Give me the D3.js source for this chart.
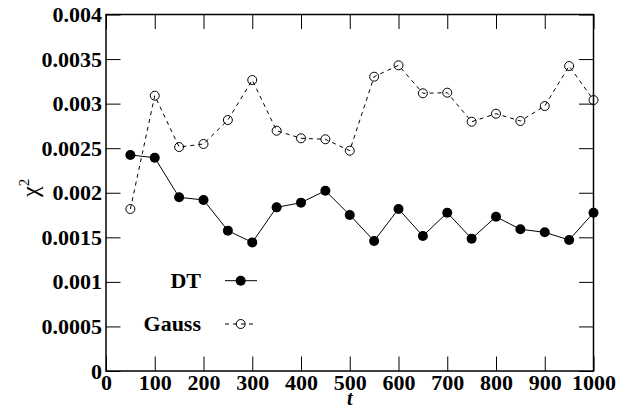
<!DOCTYPE html>
<html>
<head>
<meta charset="utf-8">
<script src="https://cdn.jsdelivr.net/npm/d3@7"></script>
<style>
  body { margin: 0; background: #fff; }
  svg { display: block; }
</style>
</head>
<body>
<div id="chart"></div>
<script>
// Data
const steps = [50, 100, 150, 200, 250, 300, 350, 400, 450, 500,
               550, 600, 650, 700, 750, 800, 850, 900, 950, 1000];
const dtValues = [0.002424, 0.002393, 0.001949, 0.001919, 0.001575, 0.001443, 0.001836, 0.001889, 0.002023, 0.00175,
                  0.001459, 0.001818, 0.001515, 0.001776, 0.001485, 0.001731, 0.00159, 0.001556, 0.00147, 0.001776];
const gaussValues = [0.001818, 0.003089, 0.002513, 0.002547, 0.002816, 0.003265, 0.002696, 0.002611, 0.0026, 0.002472,
                     0.003302, 0.00343, 0.003116, 0.003123, 0.002797, 0.002887, 0.002805, 0.002973, 0.003422, 0.00304];
const xTicks = [0, 100, 200, 300, 400, 500, 600, 700, 800, 900, 1000];
const yTicks = [0, 0.0005, 0.001, 0.0015, 0.002, 0.0025, 0.003, 0.0035, 0.004];
const yTickLabels = ["0", "0.0005", "0.001", "0.0015", "0.002", "0.0025", "0.003", "0.0035", "0.004"];

const width = 629, height = 411;
const margin = {top: 14.5, right: 35.5, bottom: 40, left: 106};
const innerW = width - margin.left - margin.right;
const innerH = height - margin.top - margin.bottom;
const serif = '"Liberation Serif", "Times New Roman", serif';

const svg = d3.select('#chart').append('svg')
    .attr('width', width)
    .attr('height', height);

const g = svg.append('g')
    .attr('transform', `translate(${margin.left},${margin.top})`);

const x = d3.scaleLinear().domain([0, 1000]).range([0, innerW]);
const y = d3.scaleLinear().domain([0, 0.004]).range([innerH, 0]);

// inward ticks on all four sides
const tickLen = 14.5;
g.append('g')
    .attr('transform', `translate(0,${innerH})`)
    .call(d3.axisBottom(x).tickValues(xTicks).tickSizeInner(-tickLen).tickSizeOuter(0).tickPadding(3)
        .tickFormat(d3.format('d')))
    .call(a => a.select('.domain').remove());
g.append('g')
    .call(d3.axisTop(x).tickValues(xTicks).tickSizeInner(-tickLen).tickSizeOuter(0).tickFormat(''))
    .call(a => a.select('.domain').remove());
g.append('g')
    .call(d3.axisLeft(y).tickValues(yTicks).tickSizeInner(-tickLen).tickSizeOuter(0).tickPadding(4)
        .tickFormat((d, i) => yTickLabels[i]))
    .call(a => a.select('.domain').remove());
g.append('g')
    .attr('transform', `translate(${innerW},0)`)
    .call(d3.axisRight(y).tickValues(yTicks).tickSizeInner(-tickLen).tickSizeOuter(0).tickFormat(''))
    .call(a => a.select('.domain').remove());

g.selectAll('.tick line').attr('stroke', '#000').attr('stroke-width', 1);
g.selectAll('.tick text')
    .attr('font-family', serif)
    .attr('font-weight', 'bold')
    .attr('font-size', 22)
    .attr('fill', '#000');

// frame
g.append('rect')
    .attr('width', innerW)
    .attr('height', innerH)
    .attr('fill', 'none')
    .attr('stroke', '#000')
    .attr('stroke-width', 1.5);

const line = d3.line()
    .x((d, i) => x(steps[i]))
    .y(d => y(d));

// Gauss: dashed line with open circles
g.append('path')
    .datum(gaussValues)
    .attr('d', line)
    .attr('fill', 'none')
    .attr('stroke', '#000')
    .attr('stroke-width', 1)
    .attr('stroke-dasharray', '4,4');
g.selectAll('.gauss-pt')
    .data(gaussValues)
    .enter().append('circle')
    .attr('class', 'gauss-pt')
    .attr('cx', (d, i) => x(steps[i]))
    .attr('cy', d => y(d))
    .attr('r', 4.5)
    .attr('fill', 'none')
    .attr('stroke', '#000')
    .attr('stroke-width', 1);

// DT: solid line with filled circles
g.append('path')
    .datum(dtValues)
    .attr('d', line)
    .attr('fill', 'none')
    .attr('stroke', '#000')
    .attr('stroke-width', 1);
g.selectAll('.dt-pt')
    .data(dtValues)
    .enter().append('circle')
    .attr('class', 'dt-pt')
    .attr('cx', (d, i) => x(steps[i]))
    .attr('cy', d => y(d))
    .attr('r', 5)
    .attr('fill', '#000');

// axis titles
svg.append('text')
    .attr('x', margin.left + innerW / 2)
    .attr('y', 405)
    .attr('text-anchor', 'middle')
    .attr('font-family', serif)
    .attr('font-size', 20)
    .attr('font-weight', 'bold')
    .attr('font-style', 'italic')
    .text('t');

svg.append('text')
    .attr('transform', 'translate(38,197) rotate(-90)')
    .attr('font-family', serif)
    .attr('font-size', 24)
    .html('χ<tspan dy="-9" font-size="15">2</tspan>');

// legend
const legend = svg.append('g');
const rows = [
    {name: 'DT', y: 280.7, dash: null, filled: true},
    {name: 'Gauss', y: 324, dash: '4,4', filled: false}
];
rows.forEach(r => {
    legend.append('text')
        .attr('x', 201)
        .attr('y', r.y + 7)
        .attr('text-anchor', 'end')
        .attr('font-family', serif)
        .attr('font-size', 22)
        .attr('font-weight', 'bold')
        .text(r.name);
    legend.append('line')
        .attr('x1', 225).attr('x2', r.filled ? 257 : 254)
        .attr('y1', r.y).attr('y2', r.y)
        .attr('stroke', '#000')
        .attr('stroke-width', 1)
        .attr('stroke-dasharray', r.dash);
    legend.append('circle')
        .attr('cx', 240.7)
        .attr('cy', r.y)
        .attr('r', r.filled ? 5 : 4.5)
        .attr('fill', r.filled ? '#000' : 'none')
        .attr('stroke', '#000')
        .attr('stroke-width', r.filled ? 0 : 1);
});
</script>
</body>
</html>
